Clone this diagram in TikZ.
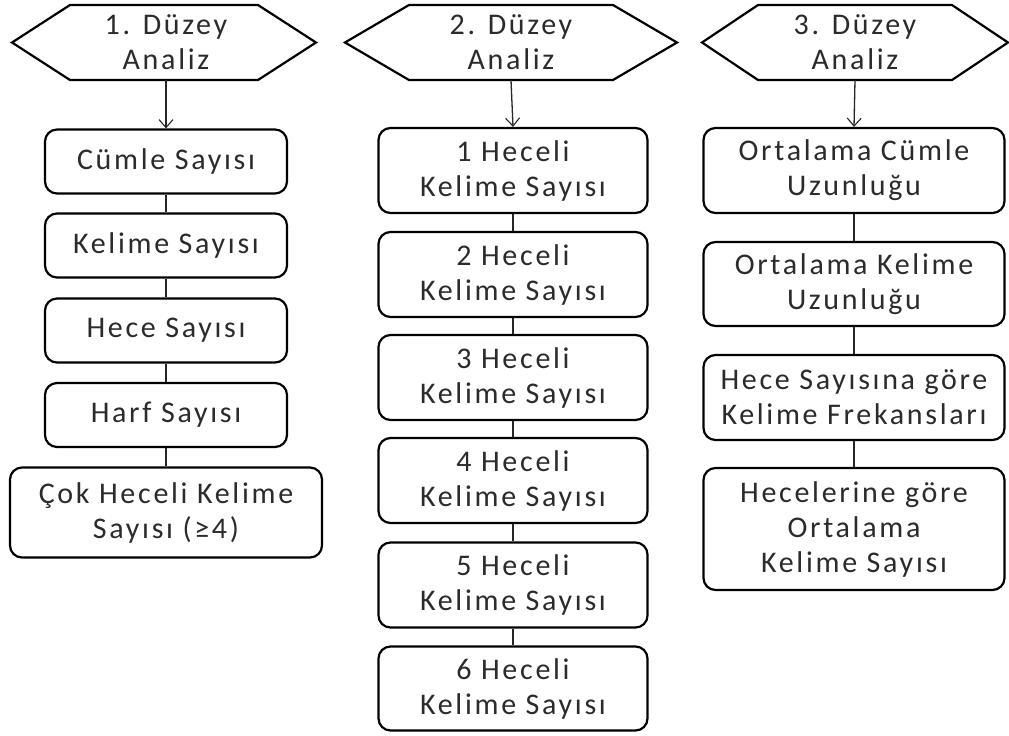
\documentclass[tikz,border=0pt]{standalone}
\usepackage{fontspec}
\setmainfont{Carlito}[LetterSpace=9]
\usetikzlibrary{arrows.meta}
\definecolor{txt}{HTML}{2B2B2B}
\tikzset{
  x=1pt, y=-1pt,
  lab/.style={font=\fontsize{30}{35}\selectfont, text=txt, align=center, inner sep=0pt},
  box/.style={lab, draw=black, line width=2.2pt, rounded corners=12pt, fill=white},
  hexlab/.style={lab, minimum height=75pt},
  hexline/.style={draw=black, line width=2.2pt, line join=miter},
  conn/.style={draw=black!85, line width=1.3pt},
  arr/.style={conn, -{Straight Barb[length=8pt,width=14pt,line width=1.1pt]}},
}
\begin{document}
\begin{tikzpicture}
\fill[white] (0,0) rectangle (1009,736);
\useasboundingbox (0,0) rectangle (1009,736);

% ---- column 1
\node[hexlab] (h1) at (166,42.5) {1. Düzey\\Analiz};
\draw[hexline] (h1.center) ++(-154,0) -- ++(58,-37.5) -- ++(188,0) -- ++(58,37.5) -- ++(-58,37.5) -- ++(-188,0) -- cycle;
\node[box, minimum width=242pt, minimum height=64pt] (a1) at (166,161.5) {Cümle Sayısı};
\node[box, minimum width=242pt, minimum height=64pt] (a2) at (166,245.5) {Kelime Sayısı};
\node[box, minimum width=242pt, minimum height=64pt] (a3) at (166,330.5) {Hece Sayısı};
\node[box, minimum width=242pt, minimum height=64pt] (a4) at (166,415) {Harf Sayısı};
\node[box, minimum width=312pt, minimum height=90pt] (a5) at (166,512.5) {Çok Heceli Kelime\\Sayısı (≥4)};
\draw[arr] (h1.south) -- (a1.north);
\draw[conn] (a1) -- (a2);
\draw[conn] (a2) -- (a3);
\draw[conn] (a3) -- (a4);
\draw[conn] (a4) -- (a5);

% ---- column 2
\node[hexlab] (h2) at (511,42.5) {2. Düzey\\Analiz};
\draw[hexline] (h2.center) ++(-166,0) -- ++(64,-37.5) -- ++(204,0) -- ++(64,37.5) -- ++(-64,37.5) -- ++(-204,0) -- cycle;
\node[box, minimum width=269pt, minimum height=85pt] (b1) at (513,170.5) {1 Heceli\\Kelime Sayısı};
\node[box, minimum width=269pt, minimum height=85pt] (b2) at (513,274.5) {2 Heceli\\Kelime Sayısı};
\node[box, minimum width=269pt, minimum height=85pt] (b3) at (513,377.5) {3 Heceli\\Kelime Sayısı};
\node[box, minimum width=269pt, minimum height=85pt] (b4) at (513,480.5) {4 Heceli\\Kelime Sayısı};
\node[box, minimum width=269pt, minimum height=85pt] (b5) at (513,585) {5 Heceli\\Kelime Sayısı};
\node[box, minimum width=269pt, minimum height=84pt] (b6) at (513,688.5) {6 Heceli\\Kelime Sayısı};
\draw[arr] (h2.south) -- (b1.north);
\draw[conn] (b1) -- (b2);
\draw[conn] (b2) -- (b3);
\draw[conn] (b3) -- (b4);
\draw[conn] (b4) -- (b5);
\draw[conn] (b5) -- (b6);

% ---- column 3
\node[hexlab] (h3) at (855,42.5) {3. Düzey\\Analiz};
\draw[hexline] (h3.center) ++(-153,0) -- ++(56,-37.5) -- ++(194,0) -- ++(56,37.5) -- ++(-56,37.5) -- ++(-194,0) -- cycle;
\node[box, minimum width=301pt, minimum height=85pt] (c1) at (854,170.5) {Ortalama Cümle\\Uzunluğu};
\node[box, minimum width=301pt, minimum height=84pt] (c2) at (854,284) {Ortalama Kelime\\Uzunluğu};
\node[box, minimum width=301pt, minimum height=85pt] (c3) at (854,397.5) {Hece Sayısına göre\\Kelime Frekansları};
\node[box, minimum width=301pt, minimum height=122pt] (c4) at (854,529) {Hecelerine göre\\Ortalama\\Kelime Sayısı};
\draw[arr] (h3.south) -- (c1.north);
\draw[conn] (c1) -- (c2);
\draw[conn] (c2) -- (c3);
\draw[conn] (c3) -- (c4);
\end{tikzpicture}
\end{document}
